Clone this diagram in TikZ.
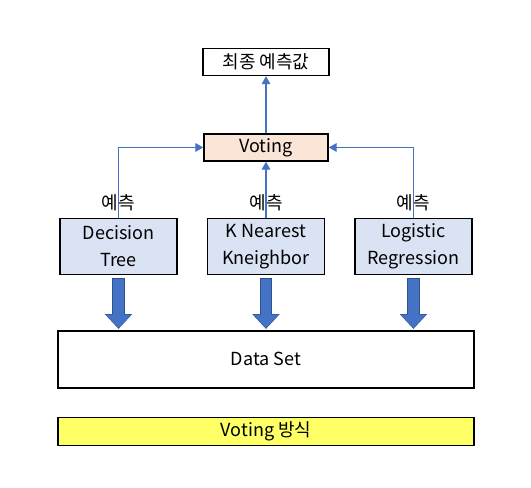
\documentclass[tikz,border=0pt]{standalone}
\usepackage{fontspec}
\setmainfont{Noto Sans CJK KR}
\usetikzlibrary{positioning,arrows.meta}
\definecolor{voteFill}{HTML}{FBE5D6}
\definecolor{modelFill}{HTML}{DAE3F3}
\definecolor{linkBlue}{HTML}{4472C4}
\definecolor{linkDark}{HTML}{2F528F}
\definecolor{noteYellow}{HTML}{FFFF66}
\tikzset{
  box/.style={draw=black, line width=1.1pt, font=\fontsize{13.5}{20.25}\selectfont,
              align=center, inner sep=0pt},
  result/.style={box, fill=white, minimum width=94.5pt, minimum height=20.25pt},
  vote/.style={box, fill=voteFill, minimum width=93pt, minimum height=20.25pt},
  model/.style={box, fill=modelFill, minimum width=87.75pt, minimum height=42pt},
  dataset/.style={box, fill=white, minimum width=312pt, minimum height=42.75pt},
  note/.style={box, fill=noteYellow, minimum width=312pt, minimum height=21pt},
  pred/.style={font=\fontsize{13.5}{16}\selectfont, inner sep=0pt},
  link/.style={-{Triangle[length=6pt,width=6.5pt]}, linkBlue, line width=0.9pt},
  fatedge/.style={-{Triangle[length=11pt,width=20.5pt,line width=0pt]}, linkDark,
                  line width=9.5pt, shorten <=2.5pt, shorten >=1pt},
  fat/.style={-{Triangle[length=10pt,width=19pt,line width=0pt]}, linkBlue,
              line width=8pt, shorten <=3pt, shorten >=1.7pt},
}

\begin{document}
\begin{tikzpicture}
    \useasboundingbox (-199.5pt,110.6pt) rectangle (198.75pt,-255.4pt);
    \node[vote] (voting) at (0,0) {Voting};
    \node[result, above=42.75pt of voting] (final) {최종 예측값};
    \node[model, below=42pt of voting] (knn) {K Nearest\\Kneighbor};
    \node[model, left=21.75pt of knn] (dt) {Decision\\Tree};
    \node[model, right=21.75pt of knn] (lr) {Logistic\\Regression};
    \node[dataset, below=41.25pt of knn] (data) {Data Set};
    \node[note, below=21pt of data] (method) {Voting 방식};
    % predictions go up to the vote
    \draw[link] (dt.north) |- (voting.west);
    \draw[link] (knn.north) -- (voting.south);
    \draw[link] (lr.north) |- (voting.east);
    \draw[link] (voting.north) -- (final.south);
    \node[pred, above=5pt of dt.north] (p1) {예측};
    \node[pred, above=5pt of knn.north] (p2) {예측};
    \node[pred, above=5pt of lr.north] (p3) {예측};
    % each model learns from the data
    \foreach \m in {dt,knn,lr}{
      \draw[fatedge] (\m.south) -- (\m.south |- data.north);
      \draw[fat] (\m.south) -- (\m.south |- data.north);
    }
\end{tikzpicture}
\end{document}
